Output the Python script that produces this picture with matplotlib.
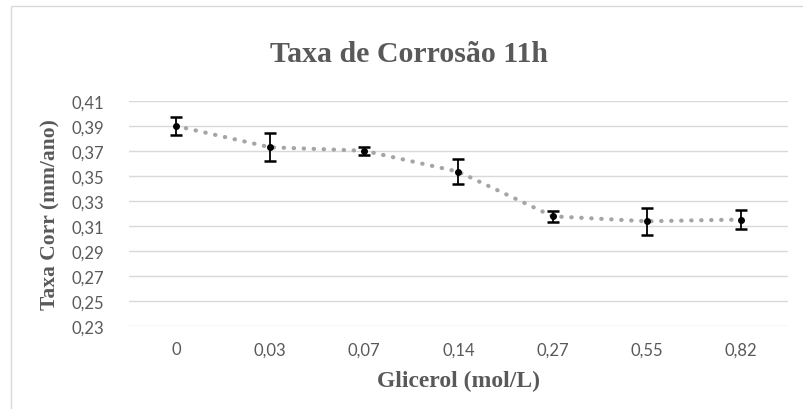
import matplotlib.pyplot as plt
import numpy as np

# Data
glicerol = ['0', '0,03', '0,07', '0,14', '0,27', '0,55', '0,82']
taxa = [0.3900, 0.3730, 0.3702, 0.3534, 0.3178, 0.3138, 0.3152]
erro = [0.0075, 0.0113, 0.0032, 0.0100, 0.0044, 0.0107, 0.0076]
yticks = [0.23, 0.25, 0.27, 0.29, 0.31, 0.33, 0.35, 0.37, 0.39, 0.41]

txt_color = '#595959'

fig = plt.figure(figsize=(8.04, 4.10), dpi=100)
ax = fig.add_axes([0.1604, 0.2024, 0.8196, 0.5488])

x = np.arange(len(glicerol))

# dotted trend line
ax.plot(x, taxa, linestyle=(0, (0.1, 2.3)), dash_capstyle='round',
        color='#A5A5A5', linewidth=3.0, zorder=2)
ax.errorbar(x, taxa, yerr=erro, fmt='o', color='black', markersize=4,
            ecolor='black', elinewidth=1.3, capsize=4.3, capthick=1.8, zorder=3)

ax.set_xlim(-0.5, len(glicerol) - 0.5)
ax.set_ylim(0.23, 0.41)
ax.set_yticks(yticks)
ax.set_yticklabels([('%.2f' % v).replace('.', ',') for v in yticks])
ax.set_xticks(x)
ax.set_xticklabels(glicerol)
ax.grid(axis='y', color='#D9D9D9', linewidth=1)
ax.set_axisbelow(True)
for s in ax.spines.values():
    s.set_visible(False)
ax.tick_params(length=0, labelsize=12, labelcolor=txt_color)
ax.tick_params(axis='x', pad=11)
ax.tick_params(axis='y', pad=18)
for lab in ax.get_xticklabels() + ax.get_yticklabels():
    lab.set_family('Lato')

ax.set_xlabel('Glicerol (mol/L)', family='Liberation Serif', fontweight='bold',
              fontsize=17, color=txt_color, labelpad=9)
ax.set_ylabel('Taxa Corr (mm/ano)', family='Liberation Serif', fontweight='bold',
              fontsize=15.5, color=txt_color, labelpad=8)
fig.text(0.509, 0.868, 'Taxa de Corrosão 11h', family='Liberation Serif',
         fontweight='bold', fontsize=21.5, color=txt_color, ha='center', va='center')

# chart border
fig.patches.append(plt.Rectangle((11 / 804, -0.1), 1.1, 1.1 - 7 / 410,
                                 transform=fig.transFigure, fill=False,
                                 edgecolor='#D9D9D9', linewidth=1))

fig.savefig('out.png', dpi=100)
